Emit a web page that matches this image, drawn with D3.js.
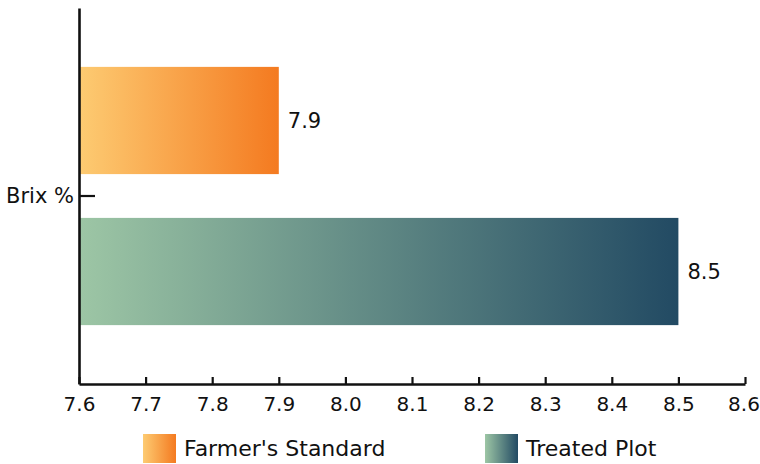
<!DOCTYPE html>
<html>
<head>
<meta charset="utf-8">
<script src="https://cdn.jsdelivr.net/npm/d3@7"></script>
<style>
  html, body { margin: 0; padding: 0; background: #fff; }
  svg { display: block; }
  text { font-family: "DejaVu Sans", sans-serif; fill: #111; }
</style>
</head>
<body>
<svg id="chart" width="760" height="464"></svg>
<script>
const categories = ["Brix %"];
const seriesNames = ["Farmer's Standard", "Treated Plot"];
const seriesValues = [7.9, 8.5];
const xTicks = [7.6, 7.7, 7.8, 7.9, 8.0, 8.1, 8.2, 8.3, 8.4, 8.5, 8.6];
const xDomain = [7.6, 8.6];
const gradientStops = [["#FDCB72", "#F47A20"], ["#9DC6A5", "#224A63"]];

const svg = d3.select("#chart");
const mLeft = 79, mRight = 745, mTop = 8, mBottom = 384;

const x = d3.scaleLinear().domain(xDomain).range([mLeft, mRight]);
const y = d3.scaleBand().domain(categories).range([mTop, mBottom]).paddingInner(0).paddingOuter(0.228);
const ySub = d3.scaleBand().domain(seriesNames).range([0, y.bandwidth()]).paddingInner(0.29).paddingOuter(0);

const defs = svg.append("defs");
seriesNames.forEach((s, i) => {
  const g = defs.append("linearGradient").attr("id", "grad" + i)
    .attr("x1", "0%").attr("x2", "100%").attr("y1", "0%").attr("y2", "0%");
  g.append("stop").attr("offset", "0%").attr("stop-color", gradientStops[i][0]);
  g.append("stop").attr("offset", "100%").attr("stop-color", gradientStops[i][1]);
});

const data = seriesNames.map((s, i) => ({ cat: categories[0], name: s, value: seriesValues[i], i }));

svg.append("g").selectAll("rect").data(data).join("rect")
  .attr("x", x(xDomain[0]))
  .attr("y", d => y(d.cat) + ySub(d.name))
  .attr("width", d => x(d.value) - x(xDomain[0]))
  .attr("height", ySub.bandwidth())
  .attr("fill", d => `url(#grad${d.i})`);

svg.append("g").selectAll("text").data(data).join("text")
  .attr("x", d => x(d.value) + 9)
  .attr("y", d => y(d.cat) + ySub(d.name) + ySub.bandwidth() / 2)
  .attr("dy", "0.35em")
  .style("font-size", "21px")
  .text(d => d3.format(".1f")(d.value));

// X axis
const xAxis = svg.append("g").attr("transform", `translate(0,${mBottom})`)
  .call(d3.axisBottom(x).tickValues(xTicks).tickFormat(d3.format(".1f")).tickSizeInner(-7).tickSizeOuter(0).tickPadding(13));
xAxis.select(".domain").attr("stroke", "#111").attr("stroke-width", 2.6);
xAxis.selectAll(".tick line").attr("stroke", "#111").attr("stroke-width", 2.2);
xAxis.selectAll(".tick text").style("font-size", "20px").style("font-family", "'DejaVu Sans', sans-serif").attr("fill", "#111")
  .attr("dx", (d, i, n) => i === n.length - 1 ? -1.5 : 0);

// Y axis
const yAxis = svg.append("g").attr("transform", `translate(${mLeft},0)`)
  .call(d3.axisLeft(y).tickSizeInner(-16).tickSizeOuter(0).tickPadding(5));
yAxis.select(".domain").attr("stroke", "#111").attr("stroke-width", 2.6);
yAxis.selectAll(".tick line").attr("stroke", "#111").attr("stroke-width", 2.2);
yAxis.selectAll(".tick text").style("font-size", "21px").style("font-family", "'DejaVu Sans', sans-serif").attr("fill", "#111");

// Legend
const legendX = [143, 485];
const legend = svg.append("g").selectAll("g").data(seriesNames).join("g")
  .attr("transform", (d, i) => `translate(${legendX[i]},434)`);
legend.append("rect").attr("width", 33).attr("height", 29).attr("fill", (d, i) => `url(#grad${i})`);
legend.append("text").attr("x", 41).attr("y", 14.5).attr("dy", "0.35em")
  .style("font-size", "22px").text(d => d);
</script>
</body>
</html>
